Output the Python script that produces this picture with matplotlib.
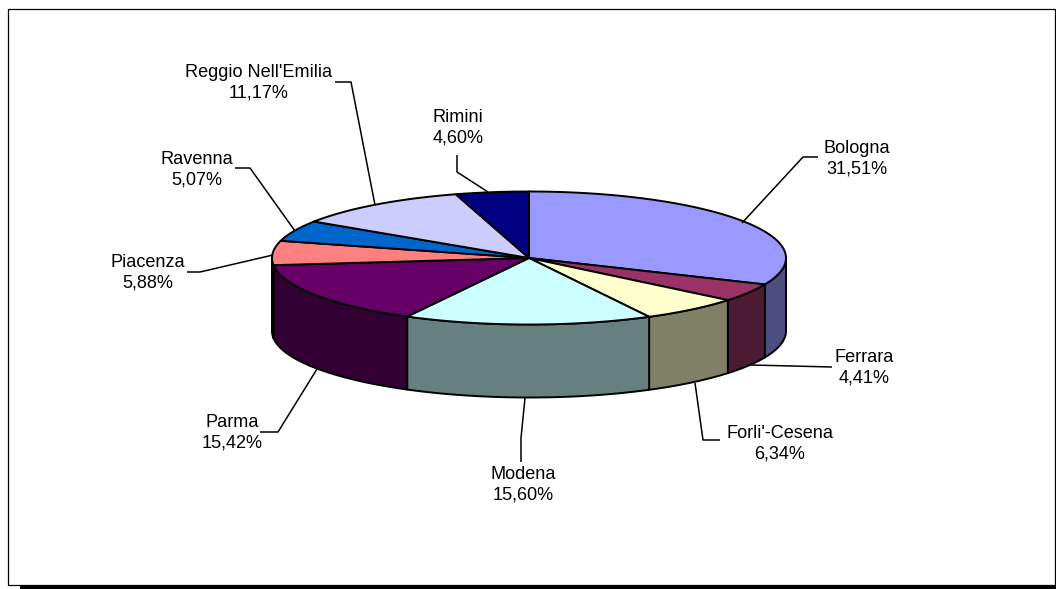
import numpy as np
import matplotlib
matplotlib.use('Agg')
import matplotlib.pyplot as plt
from matplotlib.patches import Polygon, Rectangle

plt.rcParams['font.family'] = ['Liberation Sans', 'DejaVu Sans']

# data
provinces = ['Bologna', 'Ferrara', "Forli'-Cesena", 'Modena', 'Parma',
             'Piacenza', 'Ravenna', "Reggio Nell'Emilia", 'Rimini']
shares = [31.51, 4.41, 6.34, 15.60, 15.42, 5.88, 5.07, 11.17, 4.60]
top_colors = ['#9999FF', '#993366', '#FFFFCC', '#CCFFFF', '#660066',
              '#FF8080', '#0066CC', '#CCCCFF', '#000080']
side_colors = ['#4D4D80', '#4D1A33', '#808066', '#668080', '#330033',
               '#804040', '#003366', '#666680', '#000040']

# pie geometry in pixels
cx, cy = 529, 258
rx, ry = 257, 66.5
depth = 73

# label centre and leader line for each slice
label_pos = [(857, 159), (864, 368), (780, 444), (523, 485), (232, 433),
             (148, 273), (197, 170), (259, 83), (458, 128)]
leaders = [
    [(742, 223), (803, 157), (818, 157)],
    [(751, 365), (832, 367)],
    [(695, 383), (703, 440), (720, 440)],
    [(525, 398), (521, 438), (521, 462)],
    [(317, 369), (278, 432), (260, 432)],
    [(273, 255), (200, 272), (187, 272)],
    [(295, 231), (250, 168), (235, 168)],
    [(375, 205), (351, 82), (335, 82)],
    [(488, 192), (457, 172), (457, 155)],
]


def arc(a0, a1):
    # angles in degrees, clockwise from the top of the pie
    t = np.radians(np.linspace(a0, a1, max(int(abs(a1 - a0) * 2), 2)))
    return np.column_stack([cx + rx * np.sin(t), cy - ry * np.cos(t)])


fig = plt.figure(figsize=(10.56, 5.89), dpi=100)
ax = fig.add_axes([0, 0, 1, 1])
ax.set_xlim(0, 1056)
ax.set_ylim(589, 0)
ax.axis('off')

# chart frame and its shadow
ax.add_patch(Rectangle((20, 585), 1036, 4, fc='black', ec='none'))
ax.add_patch(Rectangle((7.5, 8.5), 1047.5, 576.5, fc='white', ec='black', lw=0.9))

edges = np.concatenate([[0], np.cumsum(shares)]) * 3.6

# outer wall, only the front half shows
for i in range(len(shares)):
    a0 = max(edges[i], 90)
    a1 = min(edges[i + 1], 270)
    if a1 <= a0:
        continue
    top = arc(a0, a1)
    bottom = top[::-1] + [0, depth]
    ax.add_patch(Polygon(np.vstack([top, bottom]), closed=True,
                         fc=side_colors[i], ec='black', lw=1.4, joinstyle='round'))

# top face
for i in range(len(shares)):
    pts = np.vstack([[cx, cy], arc(edges[i], edges[i + 1])])
    ax.add_patch(Polygon(pts, closed=True, fc=top_colors[i], ec='black',
                         lw=1.4, joinstyle='round'))

# leaders and labels
for i, name in enumerate(provinces):
    xs, ys = zip(*leaders[i])
    ax.plot(xs, ys, color='black', lw=1.1, solid_capstyle='butt')
    pct = f'{shares[i]:.2f}'.replace('.', ',') + '%'
    ax.text(label_pos[i][0], label_pos[i][1], f'{name}\n{pct}', ha='center',
            va='center', fontsize=13.1, color='black', linespacing=1.29)

fig.savefig('out.png', dpi=100)
